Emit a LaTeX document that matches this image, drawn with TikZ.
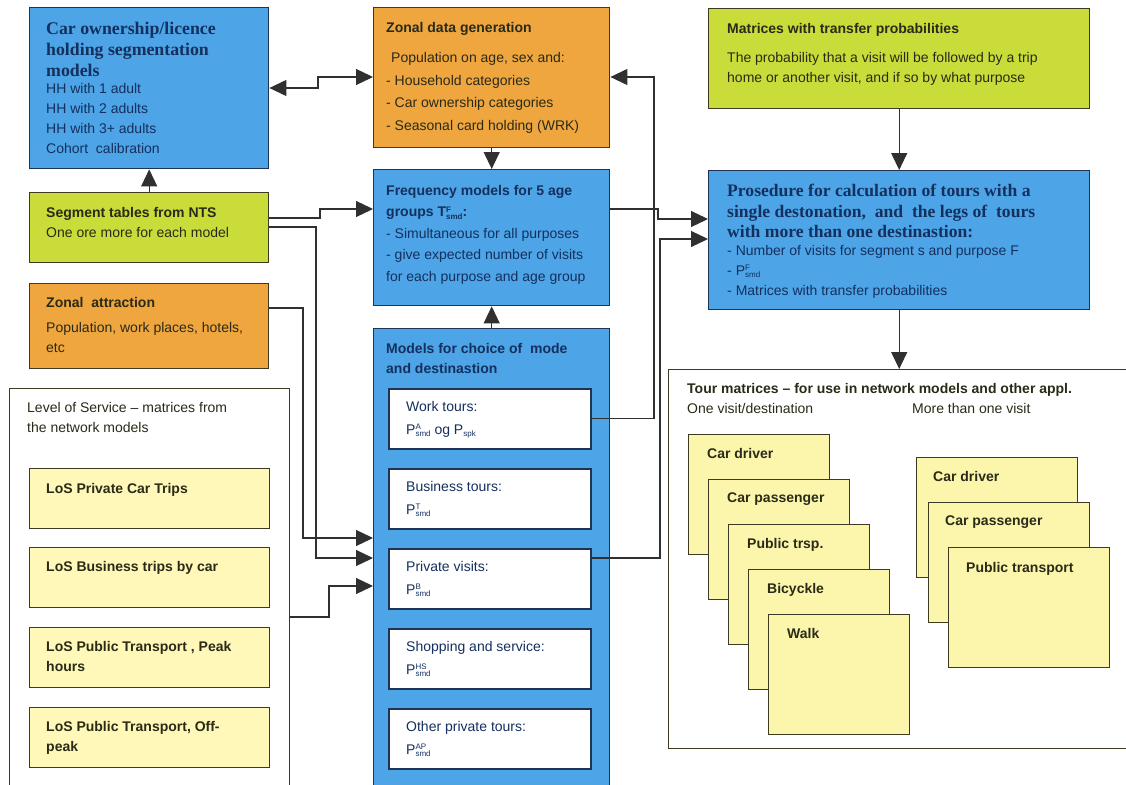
\documentclass[tikz,border=0pt]{standalone}
\usepackage{fontspec}
\setmainfont{Liberation Sans}
\newfontfamily\headserif{Liberation Serif}
\usetikzlibrary{arrows.meta}

\definecolor{boxblue}{HTML}{4DA4E6}
\definecolor{boxorange}{HTML}{EFA63E}
\definecolor{boxgreen}{HTML}{C9DC3A}
\definecolor{losyellow}{HTML}{FFF8B8}
\definecolor{stackyellow}{HTML}{FCF6AC}
\definecolor{boxline}{HTML}{3E3A22}
\definecolor{navyline}{HTML}{1E3456}
\definecolor{navytext}{HTML}{14305E}
\definecolor{darktext}{HTML}{2A2A18}
\definecolor{wireline}{HTML}{303030}

% superscript and subscript stacked after a letter, as wide as the wider one
\newcommand\supsub[2]{{\fontsize{8}{8}\selectfont
  \setbox0=\hbox{\raisebox{4.5pt}{#1}}\setbox2=\hbox{\raisebox{-2.5pt}{#2}}%
  \ifdim\wd0>\wd2\relax\rlap{\box2}\box0\else\rlap{\box0}\box2\fi}}

\tikzset{
  box/.style={rectangle, draw=boxline, line width=1.4pt, anchor=north west, inner sep=0pt},
  bluebox/.style={box, draw=navyline, fill=boxblue},
  orangebox/.style={box, fill=boxorange},
  greenbox/.style={box, fill=boxgreen},
  frame/.style={box, draw=boxline, line width=1.2pt, fill=white},
  losbox/.style={box, fill=losyellow, minimum width=240pt, minimum height=60pt},
  purposebox/.style={box, draw=navyline, line width=1.6pt, fill=white, minimum width=202pt, minimum height=60pt},
  stackbox/.style={box, fill=stackyellow, minimum width=141pt, minimum height=120pt},
  stackboxr/.style={box, fill=stackyellow, minimum width=161pt, minimum height=120pt},
  txt/.style={inner sep=0pt, anchor=north west, align=left, text=darktext, font=\fontsize{14}{20}\selectfont},
  txtb/.style={txt, font=\bfseries\fontsize{14}{20}\selectfont},
  bluetxt/.style={txt, text=navytext},
  bluetxtb/.style={txtb, text=navytext},
  purposetxt/.style={bluetxt, font=\fontsize{14}{23}\selectfont},
  serifhead/.style={inner sep=0pt, anchor=north west, align=left, text=navytext, font=\headserif\bfseries\fontsize{17.8}{21}\selectfont},
  wire/.style={draw=wireline, line width=1.2pt},
  arr/.style={wire, -{Triangle[length=17pt,width=16pt]}},
  arrboth/.style={wire, {Triangle[length=17pt,width=16pt]}-{Triangle[length=17pt,width=16pt]}},
}

\begin{document}
\begin{tikzpicture}[x=1pt, y=-1pt]
\useasboundingbox[fill=white] (0,0) rectangle (1126,784);

% ---------- left column ----------
\node[bluebox, minimum width=239pt, minimum height=161pt] (carown) at (29,7) {};
\node[serifhead] (carown-h) at (46,22) {Car ownership/licence\\holding segmentation\\models};
\node[bluetxt] (carown-t) at (46,83) {HH with 1 adult\\HH with 2 adults\\HH with 3+ adults\\Cohort\ \ calibration};

\node[greenbox, minimum width=239pt, minimum height=70pt] (seg) at (29,192) {};
\node[txt] (seg-t) at (46,207) {{\bfseries Segment tables from NTS}\\One ore more for each model};

\node[orangebox, minimum width=239pt, minimum height=85pt] (attr) at (29,283) {};
\node[txtb] (attr-h) at (46,297) {Zonal\ \ attraction};
\node[txt] (attr-t) at (46,322) {Population, work places, hotels,\\etc};

\node[frame, minimum width=280pt, minimum height=410pt] (los) at (9,388) {};
\node[txt] (los-h) at (27,402) {Level of Service -- matrices from\\the network models};
\node[losbox] (los1) at (29,468) {};
\node[txtb] (los1-t) at (46,483) {LoS Private Car Trips};
\node[losbox] (los2) at (29,547) {};
\node[txtb] (los2-t) at (46,561) {LoS Business trips by car};
\node[losbox] (los3) at (29,627) {};
\node[txtb] (los3-t) at (46,641) {LoS Public Transport , Peak\\hours};
\node[losbox] (los4) at (29,707) {};
\node[txtb] (los4-t) at (46,721) {LoS Public Transport, Off-\\peak};

% ---------- middle column ----------
\node[orangebox, minimum width=236pt, minimum height=140pt] (zonal) at (373,7) {};
\node[txtb] (zonal-h) at (386,22) {Zonal data generation};
\node[txt, font=\fontsize{14}{22.7}\selectfont] (zonal-t) at (386,52)
  {\hspace*{5pt}Population on age, sex and:\\- Household categories\\- Car ownership categories\\- Seasonal card holding (WRK)};

\node[bluebox, minimum width=236pt, minimum height=136pt] (freq) at (373,169) {};
\node[bluetxt, font=\fontsize{14}{21.5}\selectfont] (freq-t) at (386,185)
  {{\bfseries Frequency models for 5 age}\\{\bfseries groups T\supsub{F}{smd}:}\\- Simultaneous for all purposes\\- give expected number of visits\\for each purpose and age group};

\node[bluebox, minimum width=236pt, minimum height=470pt] (models) at (373,328) {};
\node[bluetxtb] (models-h) at (386,343) {Models for choice of\ \ mode\\and destinastion};
\node[purposebox] (work) at (388,388) {};
\node[purposetxt] (work-t) at (406,401) {Work tours:\\P\supsub{A}{smd} og P\supsub{}{spk}};
\node[purposebox] (bus) at (388,468) {};
\node[purposetxt] (bus-t) at (406,481) {Business tours:\\P\supsub{T}{smd}};
\node[purposebox] (priv) at (388,548) {};
\node[purposetxt] (priv-t) at (406,561) {Private visits:\\P\supsub{B}{smd}};
\node[purposebox] (shop) at (388,628) {};
\node[purposetxt] (shop-t) at (406,641) {Shopping and service:\\P\supsub{HS}{smd}};
\node[purposebox] (other) at (388,708) {};
\node[purposetxt] (other-t) at (406,721) {Other private tours:\\P\supsub{AP}{smd}};

% ---------- right column ----------
\node[greenbox, minimum width=381pt, minimum height=100pt] (mat) at (708,8) {};
\node[txtb] (mat-h) at (727,23) {Matrices with transfer probabilities};
\node[txt] (mat-t) at (727,52) {The probability that a visit will be followed by a trip\\home or another visit, and if so by what purpose};

\node[bluebox, minimum width=381pt, minimum height=139pt] (proc) at (708,170) {};
\node[serifhead, font=\headserif\bfseries\fontsize{17.6}{20.5}\selectfont] (proc-h) at (727,184)
  {Prosedure for calculation of tours with a\\single destonation,\ \ and\ \ the legs of\ \ tours\\with more than one destinastion:};
\node[bluetxt] (proc-t) at (727,245)
  {- Number of visits for segment s and purpose F\\- P\supsub{F}{smd}\\- Matrices with transfer probabilities};

\node[frame, minimum width=470pt, minimum height=379pt] (tour) at (668,369) {};
\node[txtb] (tour-h) at (687,383) {Tour matrices -- for use in network models and other appl.};
\node[txt] (tour-l) at (687,403) {One visit/destination};
\node[txt] (tour-r) at (912,403) {More than one visit};

% one visit per destination, stacked by mode
\node[stackbox] (one1) at (688,434) {};
\node[txtb] (one1-t) at ([shift={(19pt,-14pt)}]one1.north west) {Car driver};
\node[stackbox] (one2) at (708,479) {};
\node[txtb] (one2-t) at ([shift={(19pt,-14pt)}]one2.north west) {Car passenger};
\node[stackbox] (one3) at (728,524) {};
\node[txtb] (one3-t) at ([shift={(19pt,-14pt)}]one3.north west) {Public trsp.};
\node[stackbox] (one4) at (748,569) {};
\node[txtb] (one4-t) at ([shift={(19pt,-14pt)}]one4.north west) {Bicyckle};
\node[stackbox] (one5) at (768,614) {};
\node[txtb] (one5-t) at ([shift={(19pt,-14pt)}]one5.north west) {Walk};

% more than one visit, stacked by mode
\node[stackboxr] (more1) at (916,457) {};
\node[txtb] (more1-t) at ([shift={(17pt,-14pt)}]more1.north west) {Car driver};
\node[stackboxr] (more2) at (928,502) {};
\node[txtb] (more2-t) at ([shift={(17pt,-14pt)}]more2.north west) {Car passenger};
\node[stackboxr] (more3) at (948,547) {};
\node[txtb] (more3-t) at ([shift={(18pt,-15pt)}]more3.north west) {Public transport};

% ---------- connectors ----------
\draw[arrboth] (carown.east |- 0,88) -- (318,88) |- (zonal.west |- 0,77);
\draw[arr] (seg.north) -- (carown.south);
\draw[arr] (zonal.south) -- (freq.north);
\draw[arr] (models.north) -- (freq.south);
\draw[arr] (seg.east |- 0,218) -- (320,218) |- (freq.west |- 0,209);
\draw[arr] (seg.east |- 0,227) -- (316,227) |- (models.west |- 0,558);
\draw[arr] (attr.east |- 0,308) -- (303,308) |- (models.west |- 0,538);
\draw[arr] (los.east |- 0,617) -- (329,617) |- (models.west |- 0,586);
\draw[arr] (freq.east |- 0,209) -- (658,209) |- (proc.west |- 0,219);
\draw[arr] (work.east) -- (work.east -| 654,0) |- (zonal.east |- 0,77);
\draw[arr] (priv.east |- 0,558) -- (660,558) |- (proc.west |- 0,239);
\draw[arr] (mat.south) -- (proc.north);
\draw[arr] (proc.south) -- (tour.north -| proc.south);
\end{tikzpicture}
\end{document}
